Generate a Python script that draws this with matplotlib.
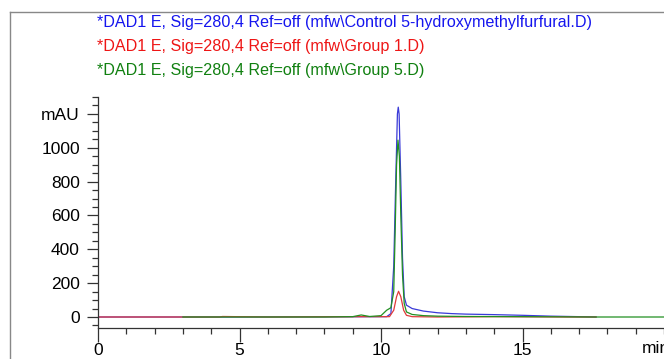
import matplotlib.pyplot as plt
from matplotlib.lines import Line2D
from matplotlib.ticker import MultipleLocator

plt.rcParams['font.family'] = ['Liberation Sans', 'DejaVu Sans']

# retention time (min) / absorbance (mAU)
blue_t = [0, 3.0, 5.0, 8.0, 10.2, 10.35, 10.45, 10.52, 10.58, 10.61, 10.64, 10.70, 10.76,
          10.82, 10.9, 11.1, 11.5, 12.0, 12.5, 13.0, 14.0, 15.0, 16.0, 17.0, 17.6]
blue_y = [0, 0, 0, 1, 2, 20, 300, 800, 1200, 1240, 1200, 800, 350,
          120, 70, 50, 35, 25, 20, 17, 14, 10, 5, 2, 0]

red_t = [0, 3.0, 4.3, 4.4, 6.0, 9.3, 10.3, 10.45, 10.55, 10.62, 10.7, 10.8, 10.9, 11.1,
         12.0, 14.0, 16.5, 17.6]
red_y = [0, 0, 0, 3, 0, 2, 2, 40, 120, 152, 120, 40, 10, 2,
         0, 2, 0, 0]

green_t = [3.0, 5.0, 8.0, 9.0, 9.3, 9.6, 10.0, 10.2, 10.35, 10.45, 10.5, 10.55, 10.6,
           10.65, 10.7, 10.76, 10.82, 10.9, 11.1, 11.5, 12.0, 13.0, 15.0, 17.5, 20.0]
green_y = [0, 0, 0, 2, 12, 3, 8, 40, 55, 150, 500, 900, 1045,
           950, 600, 250, 80, 30, 15, 8, 5, 3, 2, 0, 0]

titles = [r"*DAD1 E, Sig=280,4 Ref=off (mfw\Control 5-hydroxymethylfurfural.D)",
          r"*DAD1 E, Sig=280,4 Ref=off (mfw\Group 1.D)",
          r"*DAD1 E, Sig=280,4 Ref=off (mfw\Group 5.D)"]
title_colors = ["#1515ee", "#ee1515", "#108010"]

y_ticks = [0, 200, 400, 600, 800, 1000, 1200]
y_labels = ["0", "200", "400", "600", "800", "1000", "mAU"]
x_ticks = [0, 5, 10, 15]

fig = plt.figure(figsize=(6.64, 3.59), dpi=100)
ax = fig.add_axes([98 / 664, 31 / 359, 566 / 664, 231 / 359])

ax.plot(blue_t, blue_y, color="#3a3ad8", lw=0.9)
ax.plot(red_t, red_y, color="#e03a3a", lw=0.9)
ax.plot(green_t, green_y, color="#229022", lw=0.9)

ax.set_xlim(0, 20)
ax.set_ylim(-65, 1300)
ax.set_yticks(y_ticks)
ax.set_yticklabels(y_labels)
ax.set_xticks(x_ticks)
ax.xaxis.set_minor_locator(MultipleLocator(1))
ax.yaxis.set_minor_locator(MultipleLocator(50))
ax.tick_params(which="major", length=8, width=0.9, labelsize=12.5, color="#333333", pad=5)
ax.tick_params(which="minor", length=4, width=0.9, color="#333333")
ax.tick_params(axis="x", which="major", length=10, pad=1)
for s in ["top", "right"]:
    ax.spines[s].set_visible(False)
for s in ["left", "bottom"]:
    ax.spines[s].set_color("#333333")
    ax.spines[s].set_linewidth(0.9)

ax.text(19.7, -0.055, "min", transform=ax.get_xaxis_transform(),
        ha="center", va="top", fontsize=12.5)

# surrounding frame of the report
fig.add_artist(Line2D([10 / 664, 1], [1 - 12 / 359, 1 - 12 / 359], color="#888888", lw=1))
fig.add_artist(Line2D([10 / 664, 10 / 664], [0, 1 - 12 / 359], color="#888888", lw=1))

for i, (t, c) in enumerate(zip(titles, title_colors)):
    fig.text(97 / 664, 1 - (22 + 24.5 * i) / 359, t, color=c, fontsize=11.6, va="center")

fig.savefig("out.png", dpi=100)
